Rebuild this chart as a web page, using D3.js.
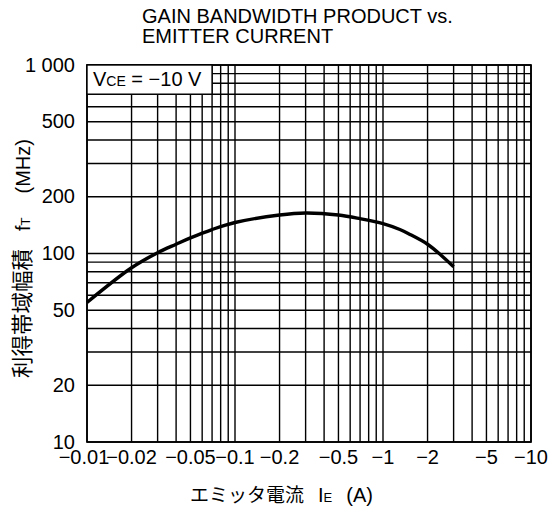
<!DOCTYPE html>
<html><head><meta charset="utf-8">
<script src="https://cdn.jsdelivr.net/npm/d3@7"></script>
<style>body{margin:0;background:#fff}svg{display:block}</style>
</head><body>
<script>
const current = [0.01,0.02,0.03,0.04,0.05,0.07,0.1,0.2,0.3,0.5,0.7,1,1.3,1.5,2,2.5,3];
const ft = [55,84,101,112,121,134,146,160,164,160,153,144,134,127,112,97,85];
const xTicks = [0.01,0.02,0.05,0.1,0.2,0.5,1,2,5,10];
const xTickLabels = ["−0.01","−0.02","−0.05","−0.1","−0.2","−0.5","−1","−2","−5","−10"];
const yTicks = [10,20,50,100,200,500,1000];
const yTickLabels = ["10","20","50","100","200","500","1 000"];
const titleLines = ["GAIN BANDWIDTH PRODUCT vs.","EMITTER CURRENT"];

const W=552,H=513;
const m={l:87,r:21,t:65,b:71};
const svg=d3.select("body").append("svg").attr("width",W).attr("height",H);
const font="'Liberation Sans', Arial, Helvetica, sans-serif";
const cjk="'Noto Sans CJK JP', "+font;
const x=d3.scaleLog().domain([0.01,10]).range([m.l,W-m.r]);
const y=d3.scaleLog().domain([10,1000]).range([H-m.b,m.t]);

const xGrid=[];[0.01,0.1,1].forEach(d=>{for(let k=1;k<=9;k++)xGrid.push(d*k);});xGrid.push(10);
const yGrid=[];[10,100].forEach(d=>{for(let k=1;k<=9;k++)yGrid.push(d*k);});yGrid.push(1000);

const g=svg.append("g");
g.selectAll(".vx").data(xGrid).join("line")
 .attr("x1",d=>x(d)).attr("x2",d=>x(d)).attr("y1",y(10)).attr("y2",y(1000))
 .attr("stroke","#000").attr("stroke-width",1.4);
g.selectAll(".hy").data(yGrid).join("line")
 .attr("y1",d=>y(d)).attr("y2",d=>y(d)).attr("x1",x(0.01)).attr("x2",x(10))
 .attr("stroke","#000").attr("stroke-width",1.4);
g.append("rect").attr("x",x(0.01)).attr("y",y(1000)).attr("width",x(10)-x(0.01)).attr("height",y(10)-y(1000))
 .attr("fill","none").attr("stroke","#000").attr("stroke-width",1.7);

// condition box
g.append("rect").attr("x",x(0.01)).attr("y",y(1000)).attr("width",x(0.07)-x(0.01)).attr("height",y(700)-y(1000))
 .attr("fill","#fff").attr("stroke","#000").attr("stroke-width",1.4);
const vt=g.append("text").attr("x",x(0.01)+6).attr("y",y(1000)+21).attr("font-family",font).attr("font-size",20);
vt.append("tspan").text("V");
vt.append("tspan").attr("font-size",14).text("CE");
vt.append("tspan").text(" = −10 V");

// curve
const line=d3.line().x((d,i)=>x(current[i])).y((d,i)=>y(ft[i])).curve(d3.curveCatmullRom.alpha(0.5));
g.append("path").datum(ft).attr("d",line).attr("fill","none").attr("stroke","#000").attr("stroke-width",3.4);

// tick labels
svg.append("g").selectAll("text").data(yTicks).join("text")
 .attr("x",75).attr("y",d=>y(d)).attr("dy","0.33em").attr("text-anchor","end")
 .attr("font-family",font).attr("font-size",20).text((d,i)=>yTickLabels[i]);
svg.append("g").selectAll("text").data(xTicks).join("text")
 .attr("x",d=>x(d)).attr("dx",(d,i)=>i===0?-3:0).attr("y",464).attr("text-anchor","middle")
 .attr("font-family",font).attr("font-size",20).text((d,i)=>xTickLabels[i]);

// title
svg.append("g").selectAll("text").data(titleLines).join("text")
 .attr("x",142).attr("y",(d,i)=>23+i*20).attr("font-family",font).attr("font-size",20).text(d=>d);

// x axis title
const xt=svg.append("text").attr("x",190).attr("y",502).attr("font-family",cjk).attr("font-size",19);
xt.append("tspan").text("エミッタ電流");
xt.append("tspan").attr("dx",14).attr("font-family",font).attr("font-size",20).text("I");
xt.append("tspan").attr("font-family",font).attr("font-size",13).text("E");
xt.append("tspan").attr("dx",14).attr("font-family",font).attr("font-size",20).text("(A)");

// y axis title
const yt=svg.append("text").attr("transform","translate(30,378) rotate(-90)").attr("font-family",cjk).attr("font-size",21.5);
yt.append("tspan").text("利得帯域幅積");
yt.append("tspan").attr("dx",18).attr("font-family",font).attr("font-size",20).text("f");
yt.append("tspan").attr("font-family",font).attr("font-size",13).text("T");
yt.append("tspan").attr("dx",24).attr("font-family",font).attr("font-size",20).text("(MHz)");
</script>
</body></html>
